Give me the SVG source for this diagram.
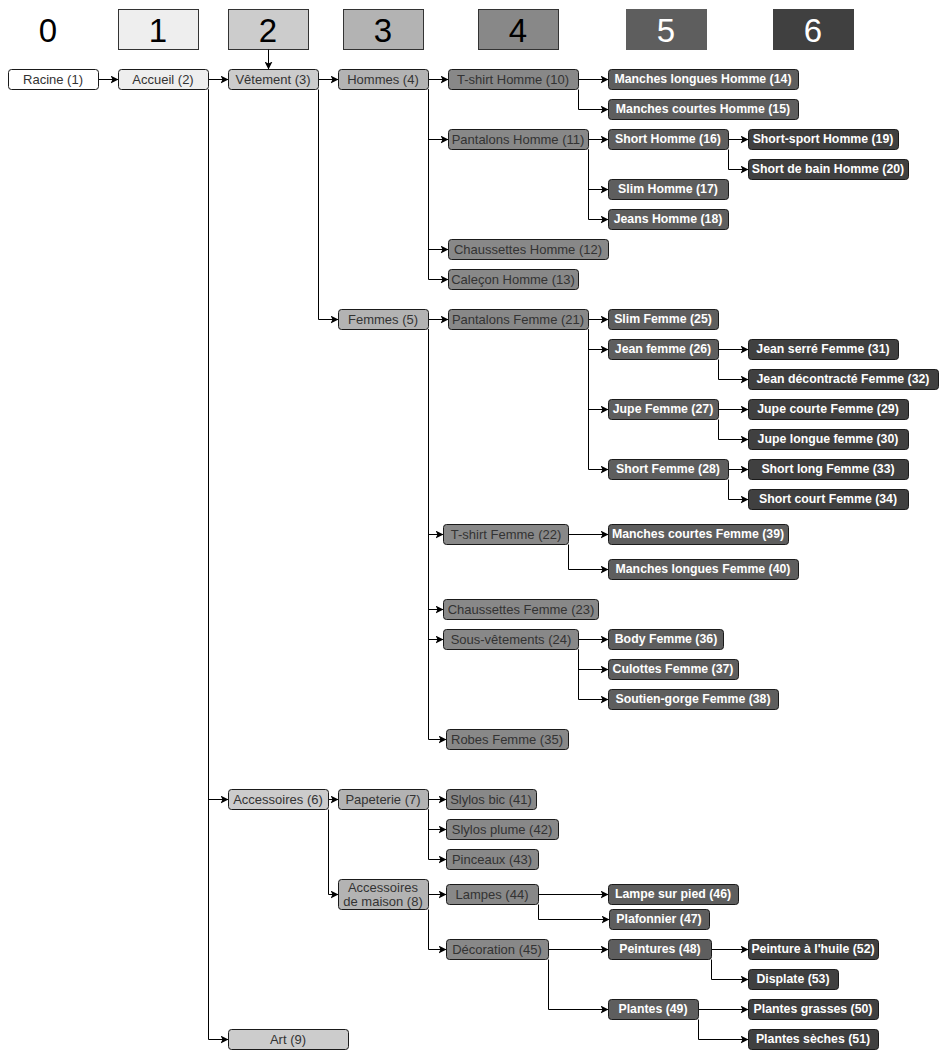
<svg xmlns="http://www.w3.org/2000/svg" width="941" height="1053" viewBox="0 0 941 1053">
<style>
  .n rect { stroke: #1a1a1a; stroke-width: 1; }
  .n text { font-family: "Liberation Sans", Arial, sans-serif; font-size: 13px; text-anchor: middle; dominant-baseline: central; }
  .l0 rect { fill: #ffffff; }
  .l1 rect { fill: #eeeeee; }
  .l2 rect { fill: #cccccc; }
  .l3 rect { fill: #b3b3b3; }
  .l4 rect { fill: #888888; }
  .l5 rect { fill: #5e5e5e; }
  .l6 rect { fill: #404040; }
  .l0 text, .l1 text, .l2 text, .l3 text, .l4 text { fill: #333333; }
  .l5 text, .l6 text { fill: #ffffff; font-weight: bold; font-size: 12.3px; }
  .h rect { stroke: #333333; stroke-width: 1; }
  .h text { font-family: "Liberation Sans", Arial, sans-serif; font-size: 33px; text-anchor: middle; dominant-baseline: central; }
  .c path { fill: none; stroke: #000000; stroke-width: 1; marker-end: url(#arr); }
</style>
<defs>
  <marker id="arr" markerUnits="userSpaceOnUse" markerWidth="10" markerHeight="8" refX="8" refY="4" orient="auto">
    <path d="M0,0 L8,4 L0,8 L2,4 Z" fill="#000000" stroke="none"/>
  </marker>
</defs>
<rect x="0" y="0" width="941" height="1053" fill="#ffffff"/>

<g id="headers">
  <g id="h0" class="h"><text x="48" y="30" fill="#000000">0</text></g>
  <g id="h1" class="h"><rect x="118.5" y="9.5" width="80" height="40" fill="#eeeeee"/><text x="158" y="30" fill="#000000">1</text></g>
  <g id="h2" class="h"><rect x="228.5" y="9.5" width="80" height="40" fill="#cccccc"/><text x="268" y="30" fill="#000000">2</text></g>
  <g id="h3" class="h"><rect x="343.5" y="9.5" width="80" height="40" fill="#b3b3b3"/><text x="383" y="30" fill="#000000">3</text></g>
  <g id="h4" class="h"><rect x="478.5" y="9.5" width="80" height="40" fill="#888888"/><text x="518" y="30" fill="#000000">4</text></g>
  <g id="h5" class="h"><rect x="626.5" y="9.5" width="80" height="40" fill="#5e5e5e" style="stroke:#5e5e5e"/><text x="666" y="30" fill="#ffffff">5</text></g>
  <g id="h6" class="h"><rect x="773.5" y="9.5" width="80" height="40" fill="#404040" style="stroke:#404040"/><text x="813" y="30" fill="#ffffff">6</text></g>
</g>

<g id="connectors" class="c" transform="translate(0.5,0.5)">
  <path d="M268,49 V69"/>
  <path d="M98,79 H118"/>
  <path d="M208,79 H228"/>
  <path d="M318,79 H338"/>
  <path d="M428,79 H448"/>
  <path d="M578,79 H608"/>
  <path d="M578,89 V109 H608"/>
  <path d="M428,89 V139 H448"/>
  <path d="M588,139 H608"/>
  <path d="M728,139 H748"/>
  <path d="M728,149 V169 H748"/>
  <path d="M588,149 V189 H608"/>
  <path d="M588,149 V219 H608"/>
  <path d="M428,89 V249 H448"/>
  <path d="M428,89 V279 H448"/>
  <path d="M318,89 V319 H338"/>
  <path d="M428,319 H448"/>
  <path d="M588,319 H608"/>
  <path d="M588,329 V349 H608"/>
  <path d="M718,349 H748"/>
  <path d="M718,359 V379 H748"/>
  <path d="M588,329 V409 H608"/>
  <path d="M718,409 H748"/>
  <path d="M718,419 V439 H748"/>
  <path d="M588,329 V469 H608"/>
  <path d="M728,469 H748"/>
  <path d="M728,479 V499 H748"/>
  <path d="M428,329 V534 H443"/>
  <path d="M568,534 H608"/>
  <path d="M568,544 V569 H608"/>
  <path d="M428,329 V609 H443"/>
  <path d="M428,329 V639 H443"/>
  <path d="M578,639 H608"/>
  <path d="M578,649 V669 H608"/>
  <path d="M578,649 V699 H608"/>
  <path d="M428,329 V739 H446"/>
  <path d="M208,89 V799 H228"/>
  <path d="M328,799 H338"/>
  <path d="M428,799 H446"/>
  <path d="M428,809 V829 H446"/>
  <path d="M428,809 V859 H446"/>
  <path d="M328,809 V894 H338"/>
  <path d="M428,894 H446"/>
  <path d="M538,894 H608"/>
  <path d="M538,904 V919 H609"/>
  <path d="M428,909 V949 H446"/>
  <path d="M548,949 H608"/>
  <path d="M711,949 H748"/>
  <path d="M711,959 V979 H748"/>
  <path d="M548,959 V1009 H608"/>
  <path d="M698,1009 H748"/>
  <path d="M698,1019 V1039 H748"/>
  <path d="M208,89 V1039 H228"/>
</g>

<g id="n1" class="n l0"><rect x="8.5" y="69.5" width="90" height="20" rx="3"/><text x="53" y="79">Racine (1)</text></g>
<g id="n2" class="n l1"><rect x="118.5" y="69.5" width="90" height="20" rx="3"/><text x="163" y="79">Accueil (2)</text></g>
<g id="n3" class="n l2"><rect x="228.5" y="69.5" width="90" height="20" rx="3"/><text x="273" y="79">Vêtement (3)</text></g>
<g id="n4" class="n l3"><rect x="338.5" y="69.5" width="90" height="20" rx="3"/><text x="383" y="79">Hommes (4)</text></g>
<g id="n10" class="n l4"><rect x="448.5" y="69.5" width="130" height="20" rx="3"/><text x="513" y="79">T-shirt Homme (10)</text></g>
<g id="n14" class="n l5"><rect x="608.5" y="69.5" width="190" height="20" rx="3"/><text x="703" y="79">Manches longues Homme (14)</text></g>
<g id="n15" class="n l5"><rect x="608.5" y="99.5" width="190" height="20" rx="3"/><text x="703" y="109">Manches courtes Homme (15)</text></g>
<g id="n11" class="n l4"><rect x="448.5" y="129.5" width="140" height="20" rx="3"/><text x="518" y="139">Pantalons Homme (11)</text></g>
<g id="n16" class="n l5"><rect x="608.5" y="129.5" width="120" height="20" rx="3"/><text x="668" y="139">Short Homme (16)</text></g>
<g id="n19" class="n l6"><rect x="748.5" y="129.5" width="150" height="20" rx="3"/><text x="823" y="139">Short-sport Homme (19)</text></g>
<g id="n20" class="n l6"><rect x="748.5" y="159.5" width="160" height="20" rx="3"/><text x="828" y="169">Short de bain Homme (20)</text></g>
<g id="n17" class="n l5"><rect x="608.5" y="179.5" width="120" height="20" rx="3"/><text x="668" y="189">Slim Homme (17)</text></g>
<g id="n18" class="n l5"><rect x="608.5" y="209.5" width="120" height="20" rx="3"/><text x="668" y="219">Jeans Homme (18)</text></g>
<g id="n12" class="n l4"><rect x="448.5" y="239.5" width="160" height="20" rx="3"/><text x="528" y="249">Chaussettes Homme (12)</text></g>
<g id="n13" class="n l4"><rect x="448.5" y="269.5" width="130" height="20" rx="3"/><text x="513" y="279">Caleçon Homme (13)</text></g>

<g id="n5" class="n l3"><rect x="338.5" y="309.5" width="90" height="20" rx="3"/><text x="383" y="319">Femmes (5)</text></g>
<g id="n21" class="n l4"><rect x="448.5" y="309.5" width="140" height="20" rx="3"/><text x="518" y="319">Pantalons Femme (21)</text></g>
<g id="n25" class="n l5"><rect x="608.5" y="309.5" width="110" height="20" rx="3"/><text x="663" y="319">Slim Femme (25)</text></g>
<g id="n26" class="n l5"><rect x="608.5" y="339.5" width="110" height="20" rx="3"/><text x="663" y="349">Jean femme (26)</text></g>
<g id="n31" class="n l6"><rect x="748.5" y="339.5" width="150" height="20" rx="3"/><text x="823" y="349">Jean serré Femme (31)</text></g>
<g id="n32" class="n l6"><rect x="748.5" y="369.5" width="190" height="20" rx="3"/><text x="843" y="379">Jean décontracté Femme (32)</text></g>
<g id="n27" class="n l5"><rect x="608.5" y="399.5" width="110" height="20" rx="3"/><text x="663" y="409">Jupe Femme (27)</text></g>
<g id="n29" class="n l6"><rect x="748.5" y="399.5" width="160" height="20" rx="3"/><text x="828" y="409">Jupe courte Femme (29)</text></g>
<g id="n30" class="n l6"><rect x="748.5" y="429.5" width="160" height="20" rx="3"/><text x="828" y="439">Jupe longue femme (30)</text></g>
<g id="n28" class="n l5"><rect x="608.5" y="459.5" width="120" height="20" rx="3"/><text x="668" y="469">Short Femme (28)</text></g>
<g id="n33" class="n l6"><rect x="748.5" y="459.5" width="160" height="20" rx="3"/><text x="828" y="469">Short long Femme (33)</text></g>
<g id="n34" class="n l6"><rect x="748.5" y="489.5" width="160" height="20" rx="3"/><text x="828" y="499">Short court Femme (34)</text></g>
<g id="n22" class="n l4"><rect x="443.5" y="524.5" width="125" height="20" rx="3"/><text x="506" y="534">T-shirt Femme (22)</text></g>
<g id="n39" class="n l5"><rect x="608.5" y="524.5" width="180" height="20" rx="3"/><text x="698" y="534">Manches courtes Femme (39)</text></g>
<g id="n40" class="n l5"><rect x="608.5" y="559.5" width="190" height="20" rx="3"/><text x="703" y="569">Manches longues Femme (40)</text></g>
<g id="n23" class="n l4"><rect x="443.5" y="599.5" width="155" height="20" rx="3"/><text x="521" y="609">Chaussettes Femme (23)</text></g>
<g id="n24" class="n l4"><rect x="443.5" y="629.5" width="135" height="20" rx="3"/><text x="511" y="639">Sous-vêtements (24)</text></g>
<g id="n36" class="n l5"><rect x="608.5" y="629.5" width="115" height="20" rx="3"/><text x="666" y="639">Body Femme (36)</text></g>
<g id="n37" class="n l5"><rect x="608.5" y="659.5" width="130" height="20" rx="3"/><text x="673" y="669">Culottes Femme (37)</text></g>
<g id="n38" class="n l5"><rect x="608.5" y="689.5" width="170" height="20" rx="3"/><text x="693" y="699">Soutien-gorge Femme (38)</text></g>
<g id="n35" class="n l4"><rect x="446.5" y="729.5" width="122" height="20" rx="3"/><text x="507" y="739">Robes Femme (35)</text></g>

<g id="n6" class="n l2"><rect x="228.5" y="789.5" width="100" height="20" rx="3"/><text x="278" y="799">Accessoires (6)</text></g>
<g id="n7" class="n l3"><rect x="338.5" y="789.5" width="90" height="20" rx="3"/><text x="383" y="799">Papeterie (7)</text></g>
<g id="n41" class="n l4"><rect x="446.5" y="789.5" width="90" height="20" rx="3"/><text x="491" y="799">Slylos bic (41)</text></g>
<g id="n42" class="n l4"><rect x="446.5" y="819.5" width="112" height="20" rx="3"/><text x="502" y="829">Slylos plume (42)</text></g>
<g id="n43" class="n l4"><rect x="446.5" y="849.5" width="92" height="20" rx="3"/><text x="492" y="859">Pinceaux (43)</text></g>
<g id="n8" class="n l3"><rect x="338.5" y="879.5" width="90" height="30" rx="3"/><text x="383" y="887">Accessoires</text><text x="383" y="901.5">de maison (8)</text></g>
<g id="n44" class="n l4"><rect x="446.5" y="884.5" width="92" height="20" rx="3"/><text x="492" y="894">Lampes (44)</text></g>
<g id="n46" class="n l5"><rect x="608.5" y="884.5" width="130" height="20" rx="3"/><text x="673" y="894">Lampe sur pied (46)</text></g>
<g id="n47" class="n l5"><rect x="609.5" y="909.5" width="100" height="20" rx="3"/><text x="659" y="919">Plafonnier (47)</text></g>
<g id="n45" class="n l4"><rect x="446.5" y="939.5" width="102" height="20" rx="3"/><text x="497" y="949">Décoration (45)</text></g>
<g id="n48" class="n l5"><rect x="608.5" y="939.5" width="103" height="20" rx="3"/><text x="660" y="949">Peintures (48)</text></g>
<g id="n52" class="n l6"><rect x="748.5" y="939.5" width="130" height="20" rx="3"/><text x="813" y="949">Peinture à l'huile (52)</text></g>
<g id="n53" class="n l6"><rect x="748.5" y="969.5" width="90" height="20" rx="3"/><text x="793" y="979">Displate (53)</text></g>
<g id="n49" class="n l5"><rect x="608.5" y="999.5" width="90" height="20" rx="3"/><text x="653" y="1009">Plantes (49)</text></g>
<g id="n50" class="n l6"><rect x="748.5" y="999.5" width="130" height="20" rx="3"/><text x="813" y="1009">Plantes grasses (50)</text></g>
<g id="n51" class="n l6"><rect x="748.5" y="1029.5" width="130" height="20" rx="3"/><text x="813" y="1039">Plantes sèches (51)</text></g>
<g id="n9" class="n l2"><rect x="228.5" y="1029.5" width="120" height="20" rx="3"/><text x="288" y="1039">Art (9)</text></g>
</svg>
